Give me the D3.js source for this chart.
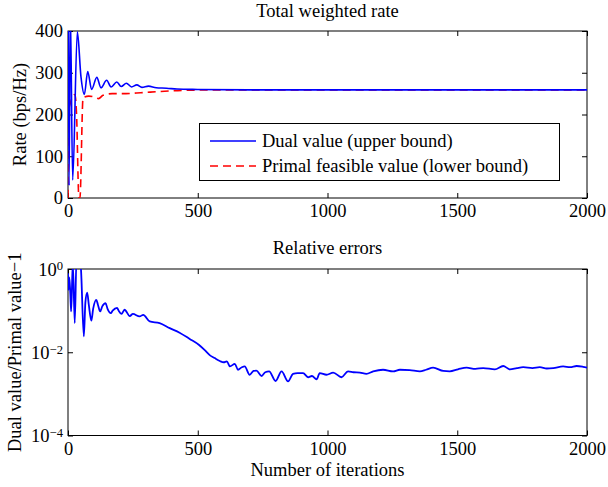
<!DOCTYPE html>
<html><head><meta charset="utf-8">
<script src="https://cdn.jsdelivr.net/npm/d3@7/dist/d3.min.js"></script>
<style>
body{margin:0;background:#fff;}
svg{display:block;}
</style></head>
<body>
<svg id="c" width="608" height="487"></svg>
<script>
// ---- data ----
const xTicks = [0, 500, 1000, 1500, 2000];
const rateTicks = [0, 100, 200, 300, 400];
const errTickExps = [0, -2, -4];

const dualIter = [0,4,9,18,36,50,63,76,91,111,127,149,166,188,205,225,245,265,285,310,340,380,420,500,700,1000,1500,2000];
const dualRate = [620,30,450,43,398,290,248,303,260,289,264,282,266,278,267,275,266,271,265,268,264,263,261,260,259,259,259,259];

const primalIter = [0,1,8,27,33,42,46,58,80,100,118,135,170,210,280,350,450,600,1000,2000];
const primalRate = [0,205,225,248,200,0,0,240,244,242,238,246,250,250,252,255,258,259,259,259];

const errIter = [0,2,5,9,12,17,19,26,33,45,50,61,67,74,80,90,97,109,115,124,132,145,152,165,172,189,195,206,218,238,250,276,290,315,353,392,430,469,504,527,546,565,585,600,612,624,643,655,670,681,700,715,726,746,760,775,800,823,848,867,885,906,925,940,958,970,996,1022,1054,1079,1100,1125,1150,1176,1214,1253,1279,1317,1356,1380,1407,1446,1471,1503,1536,1570,1600,1645,1677,1703,1730,1754,1790,1818,1845,1870,1908,1935,1960,1985,2000];
const errValue = [0.794,0.316,0.631,0.251,0.0955,0.794,1.26,0.0501,2.0,2.0,1.0,0.024,0.158,0.269,0.141,0.0575,0.112,0.182,0.141,0.0955,0.126,0.151,0.112,0.0871,0.1,0.117,0.1,0.0832,0.105,0.0741,0.0832,0.0724,0.0794,0.055,0.0501,0.038,0.0295,0.0209,0.0151,0.0112,0.00851,0.00724,0.00617,0.00575,0.00603,0.00457,0.00525,0.0038,0.00437,0.00457,0.00288,0.00355,0.00363,0.00269,0.00331,0.00347,0.00204,0.00347,0.002,0.00302,0.00316,0.00316,0.00251,0.00269,0.00224,0.00316,0.00288,0.00324,0.00251,0.00347,0.00331,0.00324,0.00302,0.00347,0.0038,0.00347,0.0038,0.00372,0.00347,0.0038,0.00427,0.00355,0.00347,0.00389,0.00427,0.00398,0.00417,0.00389,0.00468,0.00389,0.00417,0.00437,0.00417,0.00437,0.00407,0.00417,0.00457,0.00437,0.00468,0.00447,0.00427];

const titles = ["Total weighted rate", "Relative errors"];
const legendLabels = ["Dual value (upper bound)", "Primal feasible value (lower bound)"];

// ---- layout ----
const FONT = "Liberation Serif";
const svg = d3.select("#c").attr("font-family", FONT);
const FS = 18.5;
const L = 68, R = 587;
const T1 = 31, B1 = 198, T2 = 269, B2 = 435.5;

const x = d3.scaleLinear().domain([0, 2000]).range([L, R]);
const y1 = d3.scaleLinear().domain([0, 400]).range([B1, T1]);
const y2 = d3.scaleLog().domain([1e-4, 1]).range([B2, T2]);

const defs = svg.append("defs");
defs.append("clipPath").attr("id","cp1").append("rect").attr("x",L).attr("y",T1).attr("width",R-L).attr("height",B1-T1);
defs.append("clipPath").attr("id","cp2").append("rect").attr("x",L).attr("y",T2).attr("width",R-L).attr("height",B2-T2);

function styleAxis(g){
  g.attr("font-family", FONT);
  g.select(".domain").remove();
  g.selectAll(".tick line").attr("stroke","#000");
  g.selectAll("text").attr("font-size",FS).attr("fill","#000").attr("font-family", FONT);
}

function frame(top, bottom, yScale, yTickVals, isLog){
  svg.append("g").attr("transform",`translate(0,${bottom})`)
    .call(d3.axisBottom(x).tickValues(xTicks).tickSizeInner(-5).tickSizeOuter(0).tickPadding(6).tickFormat(d3.format("d")))
    .call(styleAxis);
  svg.append("g").attr("transform",`translate(0,${top})`)
    .call(d3.axisTop(x).tickValues(xTicks).tickSizeInner(-5).tickSizeOuter(0).tickFormat(""))
    .call(styleAxis);
  const la = svg.append("g").attr("transform",`translate(${L},0)`)
    .call(d3.axisLeft(yScale).tickValues(yTickVals).tickSizeInner(-5).tickSizeOuter(0).tickPadding(5).tickFormat(isLog ? "" : d3.format("d")))
    .call(styleAxis);
  if (isLog) {
    la.selectAll(".tick").each(function(d){
      const t = d3.select(this).select("text").attr("dy","0.35em");
      const e = Math.round(Math.log10(d));
      t.text(null);
      t.append("tspan").text("10");
      t.append("tspan").attr("dy","-0.45em").attr("font-size",FS*0.68).text(e < 0 ? "\u2212" + (-e) : String(e));
    });
  }
  svg.append("g").attr("transform",`translate(${R},0)`)
    .call(d3.axisRight(yScale).tickValues(yTickVals).tickSizeInner(-5).tickSizeOuter(0).tickFormat(""))
    .call(styleAxis);
  svg.append("rect").attr("x",L).attr("y",top).attr("width",R-L).attr("height",bottom-top)
    .attr("fill","none").attr("stroke","#000").attr("stroke-width",1);
}

function label(sel){ return sel.attr("font-family", FONT).attr("font-size", FS).attr("fill","#000"); }

// ---- top plot ----
frame(T1, B1, y1, rateTicks, false);
const dualData = dualIter.map((d,i)=>[d, dualRate[i]]);
const primalData = primalIter.map((d,i)=>[d, primalRate[i]]);
const line1 = d3.line().x(d=>x(d[0])).y(d=>y1(d[1])).curve(d3.curveMonotoneX);
svg.append("path").datum(primalData).attr("clip-path","url(#cp1)")
  .attr("d", line1).attr("fill","none").attr("stroke","#ff0000").attr("stroke-width",1.6).attr("stroke-dasharray","8,5");
svg.append("path").datum(dualData).attr("clip-path","url(#cp1)")
  .attr("d", line1).attr("fill","none").attr("stroke","#0000ff").attr("stroke-width",1.6);

label(svg.append("text")).attr("x",(L+R)/2).attr("y",17).attr("text-anchor","middle").text(titles[0]);
label(svg.append("text")).attr("transform",`translate(26,${(T1+B1)/2}) rotate(-90)`).attr("text-anchor","middle").text("Rate (bps/Hz)");

// legend
const lg = svg.append("g");
lg.append("rect").attr("x",199.5).attr("y",123.5).attr("width",360).attr("height",57).attr("fill","#fff").attr("stroke","#000").attr("stroke-width",1);
[["#0000ff",null],["#ff0000","8,5"]].forEach((s,i)=>{
  const yy = 141 + i*25;
  lg.append("line").attr("x1",210).attr("x2",256).attr("y1",yy).attr("y2",yy)
    .attr("stroke",s[0]).attr("stroke-width",1.4).attr("stroke-dasharray",s[1]);
  label(lg.append("text")).attr("x",262).attr("y",yy).attr("dy","0.33em").text(legendLabels[i]);
});

// ---- bottom plot ----
frame(T2, B2, y2, errTickExps.map(e=>Math.pow(10,e)), true);
const errData = errIter.map((d,i)=>[d, errValue[i]]);
const line2 = d3.line().x(d=>x(d[0])).y(d=>y2(d[1])).curve(d3.curveMonotoneX);
svg.append("path").datum(errData).attr("clip-path","url(#cp2)")
  .attr("d", line2).attr("fill","none").attr("stroke","#0000ff").attr("stroke-width",1.8);

label(svg.append("text")).attr("x",(L+R)/2).attr("y",254).attr("text-anchor","middle").text(titles[1]);
label(svg.append("text")).attr("transform",`translate(21,${(T2+B2)/2}) rotate(-90)`).attr("text-anchor","middle").text("Dual value/Primal value\u22121");
label(svg.append("text")).attr("x",(L+R)/2).attr("y",476).attr("text-anchor","middle").text("Number of iterations");
</script>
</body></html>
